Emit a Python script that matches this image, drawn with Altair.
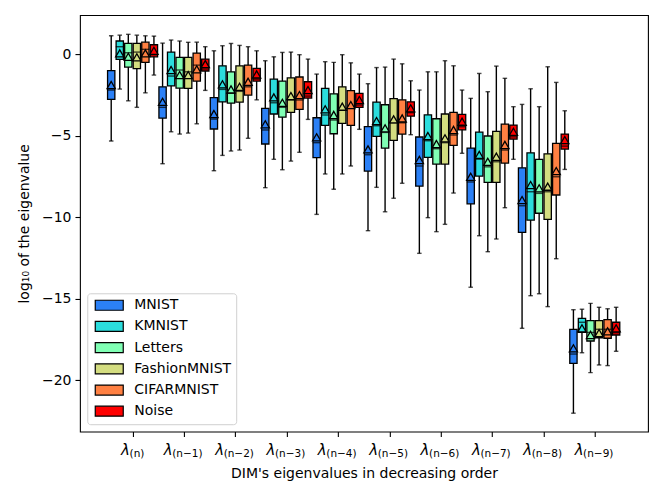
import altair as alt
import pandas as pd

datasets = ["MNIST", "KMNIST", "Letters", "FashionMNIST", "CIFARMNIST", "Noise"]
eig_subs = ["(n)", "(n−1)", "(n−2)", "(n−3)", "(n−4)", "(n−5)", "(n−6)", "(n−7)", "(n−8)", "(n−9)"]

# per eigenvalue group (rows) and dataset (columns)
whisk_hi = [
    [1.14, 1.18, 1.23, 1.18, 1.14, 1.12],
    [0.69, 0.88, 0.82, 0.74, 0.75, 0.47],
    [0.22, 0.53, 0.67, 0.55, 0.47, 0.22],
    [-0.39, -0.15, 0.12, 0.14, -0.02, -0.29],
    [-1.21, -0.45, -0.49, -0.02, -0.52, -1.21],
    [-1.80, -0.81, -0.78, -0.29, -0.58, -1.62],
    [-2.19, -1.07, -1.07, -0.39, -0.70, -2.19],
    [-2.70, -1.17, -2.29, -0.72, -1.47, -3.21],
    [-3.07, -2.11, -3.21, -0.76, -1.72, -3.46],
    [-15.67, -15.64, -15.28, -15.52, -15.61, -15.52],
]
q3 = [
    [-1.00, 0.82, 0.67, 0.67, 0.75, 0.59],
    [-1.99, 0.14, -0.18, -0.18, 0.08, -0.29],
    [-2.66, -0.70, -1.07, -0.70, -0.66, -0.86],
    [-3.31, -1.52, -1.64, -1.44, -1.39, -1.68],
    [-3.89, -2.09, -2.42, -1.99, -2.23, -2.39],
    [-4.44, -2.93, -3.09, -2.72, -2.79, -2.91],
    [-5.07, -3.71, -3.95, -3.66, -3.56, -3.68],
    [-5.75, -4.77, -5.01, -4.72, -4.28, -4.34],
    [-6.96, -6.04, -6.44, -6.10, -5.46, -4.89],
    [-16.87, -16.20, -16.34, -16.34, -16.28, -16.44],
]
median = [
    [-2.19, 0.47, 0.10, 0.14, 0.31, -0.02],
    [-3.25, -1.33, -0.96, -1.07, -0.66, -0.90],
    [-3.97, -2.15, -2.39, -2.27, -1.99, -1.52],
    [-4.64, -2.97, -3.25, -2.80, -2.80, -2.56],
    [-5.42, -3.72, -4.03, -3.42, -3.31, -3.11],
    [-6.16, -4.38, -4.79, -4.20, -4.20, -3.58],
    [-6.85, -5.30, -5.79, -5.42, -4.95, -4.44],
    [-7.83, -6.42, -6.90, -6.59, -5.87, -5.06],
    [-9.29, -8.43, -8.53, -8.43, -7.51, -5.63],
    [-18.39, -16.44, -17.06, -16.87, -16.87, -17.08],
]
q1 = [
    [-2.76, -0.31, -0.78, -0.88, -0.49, -0.15],
    [-3.91, -1.93, -2.07, -2.09, -1.64, -1.02],
    [-4.58, -2.91, -2.99, -2.93, -2.50, -1.64],
    [-5.50, -3.66, -3.85, -3.56, -3.37, -2.68],
    [-6.34, -4.36, -4.87, -4.23, -4.36, -3.25],
    [-7.16, -5.03, -5.75, -5.28, -4.89, -3.79],
    [-8.08, -6.32, -6.73, -6.73, -5.58, -4.63],
    [-9.17, -7.47, -7.85, -7.85, -6.67, -5.20],
    [-10.92, -10.17, -9.75, -10.12, -8.63, -5.81],
    [-18.96, -17.06, -17.59, -17.39, -17.42, -17.22],
]
whisk_lo = [
    [-5.32, -2.13, -2.85, -3.25, -2.36, -1.27],
    [-6.71, -4.75, -4.89, -4.83, -4.26, -2.21],
    [-7.14, -6.20, -5.93, -5.87, -5.15, -2.79],
    [-8.18, -6.44, -7.08, -6.55, -6.01, -3.99],
    [-9.82, -7.34, -8.28, -7.34, -6.85, -4.60],
    [-10.82, -8.16, -9.66, -8.83, -7.91, -4.93],
    [-12.21, -10.02, -10.88, -10.43, -8.51, -6.07],
    [-14.29, -11.13, -12.11, -11.33, -9.41, -6.44],
    [-16.81, -14.81, -14.69, -15.48, -12.54, -7.06],
    [-22.02, -18.31, -19.53, -19.06, -19.10, -18.22],
]
mean = [
    [-1.88, 0.06, -0.15, -0.18, 0.06, 0.22],
    [-2.91, -0.96, -1.27, -1.27, -0.92, -0.60],
    [-3.66, -1.84, -2.15, -1.99, -1.68, -1.23],
    [-4.29, -2.64, -2.97, -2.56, -2.50, -2.19],
    [-5.09, -3.37, -3.72, -3.21, -3.11, -2.80],
    [-5.83, -4.09, -4.54, -3.99, -3.93, -3.31],
    [-6.48, -5.01, -5.50, -5.15, -4.64, -4.13],
    [-7.51, -6.17, -6.59, -6.28, -5.56, -4.75],
    [-8.94, -8.02, -8.22, -8.12, -7.16, -5.26],
    [-18.04, -16.81, -17.22, -17.10, -17.00, -16.81],
]

colors = ["#2b80f6", "#2bdddd", "#80ffb4", "#d4dd80", "#ff8042", "#ff0000"]

# layout
W, H = 568.3, 416.7
X0, X1 = -0.927, 9.939
Y0, Y1 = -23.15, 2.41
PPU = W / (X1 - X0)
STEP = 8.7 / PPU
FONT = "DejaVu Sans"

rows = []
for g in range(len(eig_subs)):
    for k, d in enumerate(datasets):
        rows.append(dict(g=g, pos=g + (k - 2.5) * STEP, dataset=d,
                         hi=whisk_hi[g][k], q3=q3[g][k], med=median[g][k],
                         q1=q1[g][k], lo=whisk_lo[g][k], mean=mean[g][k]))
df = pd.DataFrame(rows)

# tick label placement (λ + subscript centred on tick)
char_w = {"(": 0.39, ")": 0.39, "n": 0.634, "−": 1.05, "1": 0.636}
SUB_FS = 10.5
LAM_W = 8.5
lab_rows = []
for g, s in enumerate(eig_subs):
    w = sum(char_w.get(c, 0.636) for c in s) * SUB_FS
    lab_rows.append(dict(g=g, sub=s, lx=g - (LAM_W + w) / 2 / PPU))
lab = pd.DataFrame(lab_rows)

xs = alt.Scale(domain=[X0, X1], nice=False, zero=False)
ys = alt.Scale(domain=[Y0, Y1], nice=False, zero=False)

x_axis = alt.Axis(values=list(range(10)), labels=False, grid=False,
                  title="DIM's eigenvalues in decreasing order",
                  titleY=45.8, titleBaseline="alphabetic")
y_axis = alt.Axis(values=[-20, -15, -10, -5, 0], grid=False,
                  title="log₁₀ of the eigenvalue", titleX=-51.5, titleY=H / 2,
                  titleAngle=-90, titleBaseline="alphabetic", titleAlign="center")


def X(f):
    return alt.X(f, scale=xs, axis=x_axis)


def Y(f):
    return alt.Y(f, scale=ys, axis=y_axis)


fill_enc = alt.Fill("dataset:N", sort=datasets,
                    scale=alt.Scale(domain=datasets, range=colors),
                    legend=alt.Legend(title=None, orient="none", legendX=7.3, legendY=278.3,
                                      symbolType="M-2.8,-1L2.8,-1L2.8,1L-2.8,1Z",
                                      symbolSize=100, symbolStrokeColor="black",
                                      symbolStrokeWidth=1.2, symbolOffset=10,
                                      labelOffset=18, labelFontSize=14, labelFont=FONT,
                                      labelColor="black", fillColor="white",
                                      strokeColor="#d0d0d0", cornerRadius=3,
                                      padding=5, rowPadding=5.2))

base = alt.Chart(df)

whisk = base.mark_rule(color="black", strokeWidth=1.4).encode(
    x=X("pos:Q"), y=Y("lo:Q"), y2="hi:Q")
cap_hi = base.mark_tick(orient="horizontal", size=4.5, thickness=1.4, color="black").encode(
    x=X("pos:Q"), y=Y("hi:Q"))
cap_lo = base.mark_tick(orient="horizontal", size=4.5, thickness=1.4, color="black").encode(
    x=X("pos:Q"), y=Y("lo:Q"))
boxes = base.mark_bar(size=7.3, stroke="black", strokeWidth=1.3, opacity=1).encode(
    x=X("pos:Q"), y=Y("q3:Q"), y2="q1:Q", fill=fill_enc)
meds = base.mark_tick(orient="horizontal", size=8, thickness=1.4, color="black").encode(
    x=X("pos:Q"), y=Y("med:Q"))
means = base.mark_point(shape="triangle-up", filled=True, size=68, stroke="black",
                        strokeWidth=1.3, opacity=1, fillOpacity=1).encode(
    x=X("pos:Q"), y=Y("mean:Q"),
    fill=alt.Fill("dataset:N", sort=datasets,
                  scale=alt.Scale(domain=datasets, range=colors), legend=None),
)

lam = alt.Chart(lab).mark_text(text="λ", font=FONT, fontSize=15, fontStyle="italic",
                               align="left", baseline="alphabetic", color="black").encode(
    x=X("lx:Q"), y=alt.value(H + 23.9))
subs = alt.Chart(lab).mark_text(font=FONT, fontSize=SUB_FS, align="left", dx=LAM_W,
                                baseline="alphabetic", color="black").encode(
    x=X("lx:Q"), y=alt.value(H + 25.9), text="sub:N")

chart = alt.layer(whisk, cap_hi, cap_lo, boxes, meds, means, lam, subs).properties(
    width=W, height=H,
    autosize=alt.AutoSizeParams(type="none"),
    padding={"left": 72, "top": 7, "right": 8, "bottom": 58},
).configure_view(stroke="black", strokeWidth=1.1).configure_axis(
    labelFont=FONT, titleFont=FONT, labelFontSize=14, titleFontSize=14,
    labelColor="black", titleColor="black", titleFontWeight="normal",
    tickColor="black", tickWidth=1.1, tickSize=5, labelPadding=4, domain=False,
)

chart.save("out.html", embed_options={"renderer": "svg", "actions": False})
